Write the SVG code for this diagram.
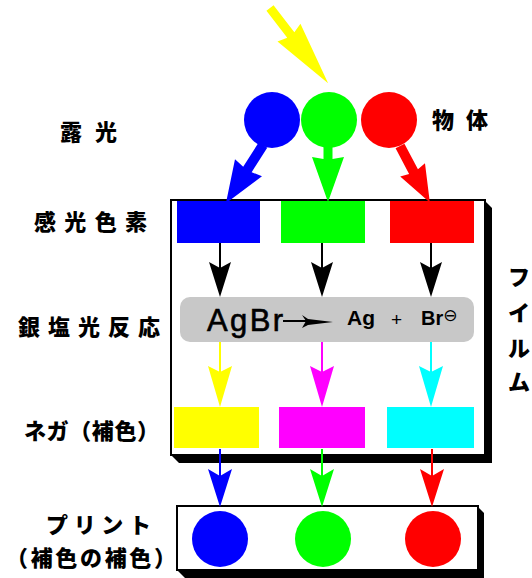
<svg xmlns="http://www.w3.org/2000/svg" width="532" height="578" viewBox="0 0 532 578">
<style>
.lbl{font-family:"Noto Sans CJK JP","Noto Sans CJK SC",sans-serif;font-weight:900;font-size:22px;fill:#000}
.box{fill:#fff;stroke:#000;stroke-width:2}
.shadow{fill:#000}
.lat{font-family:"Liberation Sans",Arial,sans-serif;fill:#000}
</style>
<rect width="532" height="578" fill="#fff"/>

<!-- Film box -->
<g id="film">
  <polygon class="shadow" points="484,200 492,208 492,463 179,463 171,455"/>
  <rect class="box" x="171" y="200" width="314" height="255"/>
</g>

<!-- Print box -->
<g id="print">
  <polygon class="shadow" points="477,506 484,513 484,578 185,578 177,570"/>
  <rect class="box" x="177" y="506" width="301" height="64"/>
</g>

<!-- Top object circles -->
<g id="object-blue"><circle cx="272" cy="120" r="28" fill="#0000ff"/></g>
<g id="object-green"><circle cx="329" cy="120" r="28" fill="#00ff00"/></g>
<g id="object-red"><circle cx="389" cy="120" r="28" fill="#ff0000"/></g>

<!-- Sensitive dyes -->
<g id="dye-blue"><rect x="177" y="201" width="83" height="42" fill="#0000ff"/></g>
<g id="dye-green"><rect x="281" y="201" width="84" height="42" fill="#00ff00"/></g>
<g id="dye-red"><rect x="390" y="201" width="84" height="42" fill="#ff0000"/></g>

<!-- Silver salt reaction -->
<g id="reaction">
  <rect x="180" y="297" width="294" height="45" rx="10" ry="10" fill="#c8c8c8"/>
  <text class="lat" x="207" y="331" font-size="31" stroke="#000" stroke-width="0.6" textLength="76" lengthAdjust="spacing">AgBr</text>
  <line x1="283" y1="321" x2="308" y2="321" stroke="#000" stroke-width="2"/>
  <polygon points="302,315 308,319 333,322 308,325 302,328 306,321" fill="#000"/>
  <text class="lat" x="347" y="325" font-size="21" font-weight="bold">Ag</text>
  <text class="lat" x="391" y="326" font-size="19">+</text>
  <text class="lat" x="421" y="325" font-size="20" font-weight="bold">Br<tspan font-family="DejaVu Sans,sans-serif" font-weight="normal" font-size="17" dy="-4">⊖</tspan></text>
</g>

<!-- Negatives -->
<g id="neg-yellow"><rect x="174" y="407" width="85" height="41" fill="#ffff00"/></g>
<g id="neg-magenta"><rect x="279" y="407" width="86" height="41" fill="#ff00ff"/></g>
<g id="neg-cyan"><rect x="387" y="407" width="87" height="41" fill="#00ffff"/></g>

<!-- Print circles -->
<g id="print-blue"><circle cx="220" cy="539" r="28" fill="#0000ff"/></g>
<g id="print-green"><circle cx="323" cy="539" r="28" fill="#00ff00"/></g>
<g id="print-red"><circle cx="433" cy="539" r="28" fill="#ff0000"/></g>

<!-- Connectors -->
<g id="connectors">
  <!-- incoming light -->
  <g transform="translate(270,8) rotate(52.3)">
    <polygon points="0,-4.5 34,-4.5 31,-14.5 95,0 31,14.5 34,4.5 0,4.5" fill="#ffff00"/>
  </g>
  <!-- object to dyes -->
  <g transform="translate(263,145) rotate(122.5)">
    <polygon points="0,-5 29,-5 27,-16 69,0 27,16 29,5 0,5" fill="#0000ff"/>
  </g>
  <g transform="translate(328,147) rotate(90)">
    <polygon points="0,-4.5 12,-4.5 10,-16 55,0 10,16 12,4.5 0,4.5" fill="#00ff00"/>
  </g>
  <g transform="translate(400,146) rotate(62.2)">
    <polygon points="0,-5 29,-5 27,-14 64,0 27,14 29,5 0,5" fill="#ff0000"/>
  </g>
  <!-- dyes to reaction -->
  <g stroke-width="2">
    <line x1="220" y1="243" x2="220" y2="268" stroke="#000"/>
    <polygon points="209,262 220,268 231,262 220,297" fill="#000"/>
    <line x1="322" y1="243" x2="322" y2="268" stroke="#000"/>
    <polygon points="311,262 322,268 333,262 322,297" fill="#000"/>
    <line x1="431" y1="243" x2="431" y2="268" stroke="#000"/>
    <polygon points="420,262 431,268 442,262 431,297" fill="#000"/>
  </g>
  <!-- reaction to negatives -->
  <g stroke-width="2">
    <line x1="220" y1="342" x2="220" y2="372" stroke="#ffff00"/>
    <polygon points="208,366 220,372 232,366 220,407" fill="#ffff00"/>
    <line x1="322" y1="342" x2="322" y2="372" stroke="#ff00ff"/>
    <polygon points="310,366 322,372 334,366 322,407" fill="#ff00ff"/>
    <line x1="431" y1="342" x2="431" y2="372" stroke="#00ffff"/>
    <polygon points="419,366 431,372 443,366 431,407" fill="#00ffff"/>
  </g>
  <!-- negatives to print -->
  <g stroke-width="2">
    <line x1="220" y1="449" x2="220" y2="476" stroke="#0000ff"/>
    <polygon points="208,469 220,476 232,469 220,507" fill="#0000ff"/>
    <line x1="322" y1="449" x2="322" y2="476" stroke="#00ff00"/>
    <polygon points="310,469 322,476 334,469 322,507" fill="#00ff00"/>
    <line x1="432" y1="449" x2="432" y2="476" stroke="#ff0000"/>
    <polygon points="420,469 432,476 444,469 432,507" fill="#ff0000"/>
  </g>
</g>

<!-- Labels -->
<g id="labels">
  <text class="lbl" x="60" y="140" textLength="57" lengthAdjust="spacing">露光</text>
  <text class="lbl" x="432" y="128" textLength="56" lengthAdjust="spacing">物体</text>
  <text class="lbl" x="34" y="230" textLength="113" lengthAdjust="spacing">感光色素</text>
  <text class="lbl" x="18" y="335" textLength="142" lengthAdjust="spacing">銀塩光反応</text>
  <text class="lbl" x="24" y="439" textLength="135" lengthAdjust="spacing">ネガ（補色）</text>
  <text class="lbl" x="46" y="533" textLength="105" lengthAdjust="spacing">プリント</text>
  <text class="lbl" x="6" y="566" textLength="170" lengthAdjust="spacing">（補色の補色）</text>
  <text class="lbl" x="519" y="285" text-anchor="middle">フ</text>
  <text class="lbl" x="519" y="321" text-anchor="middle">イ</text>
  <text class="lbl" x="519" y="356" text-anchor="middle">ル</text>
  <text class="lbl" x="519" y="390" text-anchor="middle">ム</text>
</g>
</svg>
